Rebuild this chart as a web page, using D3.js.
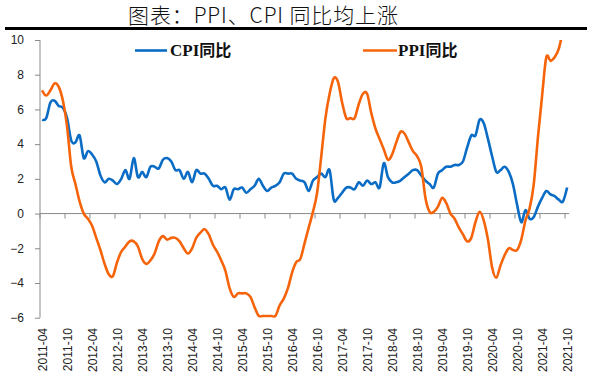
<!DOCTYPE html>
<html>
<head>
<meta charset="utf-8">
<script src="https://cdn.jsdelivr.net/npm/d3@7"></script>
<style>
  body { margin: 0; background: #fff; }
  svg { display: block; }
</style>
</head>
<body>
<div id="chart"></div>
<script>
// monthly yoy, 2011-04 .. 2021-10
var startYear = 2011, startMonth = 4;

var cpi = [
  5.4, 5.5, 6.4, 6.5, 6.2, 6.1, 5.5, 4.2, 4.1,
  4.5, 3.2, 3.6, 3.4, 3.0, 2.2, 1.8, 2.0, 1.9, 1.7, 2.0, 2.5,
  2.0, 3.2, 2.1, 2.4, 2.1, 2.7, 2.7, 2.6, 3.1, 3.2, 3.0, 2.5,
  2.5, 2.0, 2.4, 1.8, 2.5, 2.3, 2.3, 2.0, 1.6, 1.6, 1.4, 1.5,
  0.8, 1.4, 1.4, 1.5, 1.2, 1.4, 1.6, 2.0, 1.6, 1.3, 1.5, 1.6,
  1.8, 2.3, 2.3, 2.3, 2.0, 1.9, 1.8, 1.3, 1.9, 2.1, 2.3, 2.1,
  2.5, 0.8, 0.9, 1.2, 1.5, 1.5, 1.4, 1.8, 1.6, 1.9, 1.7, 1.8,
  1.5, 2.9, 2.1, 1.8, 1.8, 1.9, 2.1, 2.3, 2.5, 2.5, 2.2, 1.9,
  1.7, 1.5, 2.3, 2.5, 2.7, 2.7, 2.8, 2.8, 3.0, 3.8, 4.5, 4.5,
  5.4, 5.2, 4.3, 3.3, 2.4, 2.5, 2.7, 2.4, 1.7, 0.5, -0.5, 0.2,
  -0.3, -0.2, 0.4, 0.9, 1.3, 1.1, 1.0, 0.8, 0.7, 1.5
];

var ppi = [
  7.1, 6.8, 7.1, 7.5, 7.3, 6.5, 5.0, 2.7, 1.7,
  0.7, 0.0, -0.3, -0.7, -1.4, -2.1, -2.9, -3.5, -3.6, -2.8, -2.2, -1.9,
  -1.6, -1.6, -1.9, -2.6, -2.9, -2.7, -2.3, -1.6, -1.3, -1.5, -1.4, -1.4,
  -1.6, -2.0, -2.3, -2.0, -1.4, -1.1, -0.9, -1.2, -1.8, -2.2, -2.7, -3.3,
  -4.3, -4.8, -4.6, -4.6, -4.6, -4.8, -5.4, -5.9, -5.9, -5.9, -5.9, -5.9,
  -5.3, -4.9, -4.3, -3.4, -2.8, -2.6, -1.7, -0.8, 0.1, 1.2, 3.3, 5.5,
  6.9, 7.8, 7.6, 6.4, 5.5, 5.5, 5.5, 6.3, 6.9, 6.9, 5.8, 4.9,
  4.3, 3.7, 3.1, 3.4, 4.1, 4.7, 4.6, 4.1, 3.6, 3.3, 2.7, 0.9,
  0.1, 0.1, 0.4, 0.9, 0.6, 0.0, -0.3, -0.8, -1.2, -1.6, -1.4, -0.5,
  0.1, -0.4, -1.5, -3.1, -3.7, -3.0, -2.4, -2.0, -2.1, -2.1, -1.5, -0.4,
  0.3, 1.7, 4.4, 6.8, 9.0, 8.8, 9.0, 9.5, 10.7, 13.5
];

var yTicks = [-6, -4, -2, 0, 2, 4, 6, 8, 10];
var seriesNames = ["CPI", "PPI"];
var seriesColors = ["#0a6cc4", "#f5640a"];

// month labels
var months = [];
for (var i = 0; i < cpi.length; i++) {
  var m = startMonth - 1 + i;
  var yy = startYear + Math.floor(m / 12), mm = (m % 12) + 1;
  months.push(yy + "-" + (mm < 10 ? "0" + mm : mm));
}

var width = 589, height = 378;
var plot = { left: 40, right: 569.2, top: 40, bottom: 317.7 };

var svg = d3.select("#chart").append("svg")
  .attr("width", width)
  .attr("height", height);

svg.append("rect").attr("width", width).attr("height", height).attr("fill", "#fff");

// title
svg.append("text")
  .attr("x", 128)
  .attr("y", 23)
  .attr("textLength", 270)
  .attr("lengthAdjust", "spacing")
  .style("font-family", "'Noto Sans CJK SC', sans-serif")
  .style("font-weight", 300)
  .style("font-size", "21px")
  .attr("fill", "#111")
  .text("图表：PPI、CPI 同比均上涨");

svg.append("line")
  .attr("x1", 5).attr("x2", 587)
  .attr("y1", 28.5).attr("y2", 28.5)
  .attr("stroke", "#000")
  .attr("stroke-width", 3);

var x = d3.scaleBand()
  .domain(months)
  .range([plot.left, plot.right])
  .padding(0);
var step = x.step();
function cx(i) { return x(months[i]) + step / 2; }

var y = d3.scaleLinear().domain([-6, 10]).range([plot.bottom, plot.top]);

var axisColor = "#8a8a8a";
var labelFont = "'Liberation Sans', Arial, sans-serif";

// y axis
var yAxis = svg.append("g")
  .attr("transform", "translate(" + plot.left + ",0)")
  .call(d3.axisLeft(y).tickValues(yTicks).tickSize(5).tickPadding(11).tickFormat(d3.format("d")));
yAxis.select(".domain").attr("stroke", axisColor).attr("d", "M0," + y(10) + "V" + y(-6));
yAxis.selectAll(".tick line").attr("stroke", axisColor);
yAxis.selectAll("text")
  .style("font-family", labelFont)
  .style("font-size", "12px")
  .attr("fill", "#222");

// x axis on zero line
var tickIdx = months.map(function (d, i) { return i; }).filter(function (i) { return i % 6 === 0; });
var xg = svg.append("g").attr("transform", "translate(0," + y(0) + ")");
xg.append("line")
  .attr("x1", plot.left).attr("x2", plot.right)
  .attr("stroke", axisColor);
xg.selectAll(".tk").data(tickIdx).enter().append("line")
  .attr("x1", function (i) { return x(months[i]); })
  .attr("x2", function (i) { return x(months[i]); })
  .attr("y1", 0).attr("y2", 5)
  .attr("stroke", axisColor);

// x labels at the bottom, rotated
svg.selectAll(".xl").data(tickIdx).enter().append("text")
  .attr("transform", function (i) { return "translate(" + (cx(i) + 1) + ",328) rotate(-90)"; })
  .attr("text-anchor", "end")
  .attr("dy", "0.35em")
  .style("font-family", labelFont)
  .style("font-size", "12px")
  .attr("fill", "#222")
  .text(function (i) { return months[i]; });

// clip
svg.append("clipPath").attr("id", "plotclip")
  .append("rect")
  .attr("x", plot.left).attr("y", plot.top)
  .attr("width", plot.right - plot.left)
  .attr("height", plot.bottom - plot.top);

var line = d3.line()
  .x(function (d, i) { return cx(i); })
  .y(function (d) { return y(d); })
  .curve(d3.curveCardinal.tension(0));

var g = svg.append("g").attr("clip-path", "url(#plotclip)");
[cpi, ppi].forEach(function (s, k) {
  g.append("path")
    .datum(s)
    .attr("d", line)
    .attr("fill", "none")
    .attr("stroke", seriesColors[k])
    .attr("stroke-width", 2.6)
    .attr("stroke-linejoin", "round");
});

// legend
var legendPos = [{ x1: 135, x2: 167, tx: 170 }, { x1: 363, x2: 397, tx: 398 }];
legendPos.forEach(function (p, k) {
  svg.append("line")
    .attr("x1", p.x1).attr("x2", p.x2)
    .attr("y1", 50.5).attr("y2", 50.5)
    .attr("stroke", seriesColors[k])
    .attr("stroke-width", 2.6);
  var t = svg.append("text")
    .attr("x", p.tx).attr("y", 56)
    .attr("fill", "#111")
    .style("font-size", "16px")
    .style("font-weight", "bold");
  t.append("tspan")
    .style("font-family", "'Liberation Serif', 'Times New Roman', serif")
    .style("font-size", "17px")
    .text(seriesNames[k]);
  t.append("tspan")
    .style("font-family", "'Noto Sans CJK SC', sans-serif")
    .text("同比");
});
</script>
</body>
</html>
